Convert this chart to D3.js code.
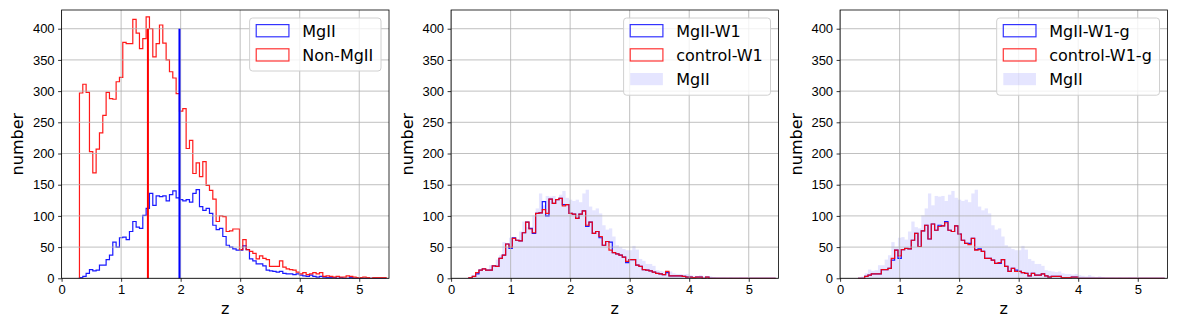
<!DOCTYPE html>
<html>
<head>
<meta charset="utf-8">
<script src="https://cdn.jsdelivr.net/npm/d3@7"></script>
<style>
  body { margin: 0; background: #fff; }
  svg { font-family: "DejaVu Sans", sans-serif; }
  .tick text { font-size: 13px; fill: #000; }
  .tick line { stroke: #000; stroke-width: 0.8; }
  .domain { display: none; }
  .label { font-size: 16px; fill: #000; }
  .legend-text { font-size: 16px; fill: #000; }
</style>
</head>
<body>
<svg id="chart" width="1177" height="327"></svg>
<script>
// histogram binning in z (shared by every series)
const binStart = 0.30,
      binWidth = 0.056;

// counts per bin
const mg2 = [
  1, 3, 8, 14, 12, 13, 21, 21, 30, 37,
  58, 50, 65, 66, 62, 75, 91, 82, 80, 101,
  112, 136, 117, 132, 131, 132, 124, 134, 140, 129,
  126, 124, 126, 122, 136, 142, 115, 109, 112, 104,
  85, 78, 80, 67, 53, 50, 47, 45, 45, 52,
  46, 31, 28, 23, 23, 20, 13, 12, 11, 10,
  11, 8, 7, 7, 6, 7, 5, 4, 3, 5,
  3, 2, 3, 2, 1, 1, 1, 0, 1, 0,
  0, 1, 0, 0, 0, 0, 0, 0, 0, 0, 0, 0];

const nonMg2 = [
  297, 311, 298, 203, 169, 207, 233, 261, 298, 288,
  287, 315, 322, 378, 376, 376, 415, 393, 368, 384,
  419, 400, 355, 376, 406, 377, 350, 331, 321, 296,
  268, 272, 208, 221, 168, 185, 163, 187, 149, 141,
  127, 91, 100, 99, 75, 76, 79, 79, 46, 62,
  46, 43, 40, 31, 36, 32, 30, 19, 19, 19,
  28, 18, 15, 14, 13, 10, 7, 9, 6, 7,
  9, 7, 9, 3, 4, 3, 2, 3, 2, 2,
  4, 3, 2, 1, 1, 2, 1, 0, 1, 1, 1, 1];

const mg2W1 = [
  1, 3, 7, 13, 15, 13, 13, 20, 19, 32,
  37, 55, 48, 65, 61, 60, 73, 90, 80, 72,
  104, 105, 123, 100, 127, 120, 126, 128, 118, 118,
  104, 103, 96, 103, 108, 83, 90, 72, 75, 65,
  53, 59, 58, 41, 39, 37, 34, 25, 30, 30,
  21, 19, 14, 13, 12, 10, 8, 7, 6, 9,
  4, 4, 4, 4, 3, 2, 2, 1, 2, 2,
  0, 2, 0, 0, 0, 0, 0, 0, 0, 0,
  0, 0, 0, 0, 0, 0, 0, 0, 0, 0, 0, 0];

const controlW1 = [
  1, 3, 9, 13, 15, 13, 13, 20, 19, 32,
  37, 55, 50, 64, 61, 60, 73, 90, 79, 73,
  104, 105, 110, 104, 127, 120, 126, 128, 116, 118,
  104, 103, 96, 103, 108, 85, 90, 72, 75, 67,
  53, 59, 45, 41, 39, 37, 34, 27, 30, 30,
  21, 19, 14, 13, 12, 10, 8, 7, 6, 11,
  4, 4, 4, 4, 3, 2, 2, 1, 2, 2,
  0, 2, 0, 0, 0, 0, 0, 0, 0, 0,
  0, 0, 0, 0, 0, 0, 0, 0, 0, 0, 0, 0];

const mg2W1g = [
  0, 0, 3, 5, 7, 7, 7, 14, 14, 16,
  29, 45, 32, 46, 48, 47, 61, 72, 51, 76,
  85, 63, 87, 77, 85, 84, 91, 77, 75, 84,
  71, 61, 56, 56, 64, 46, 47, 43, 32, 32,
  29, 24, 24, 30, 19, 11, 16, 13, 11, 9,
  8, 4, 8, 5, 5, 7, 4, 2, 3, 3,
  3, 1, 1, 1, 2, 2, 0, 0, 0, 0,
  0, 0, 0, 0, 0, 0, 0, 0, 0, 0,
  0, 0, 0, 0, 0, 0, 0, 0, 0, 0, 0, 0];

const controlW1g = [
  0, 0, 3, 5, 7, 7, 7, 14, 14, 16,
  32, 45, 36, 46, 48, 47, 61, 72, 51, 76,
  85, 63, 87, 77, 83, 84, 89, 77, 75, 84,
  71, 61, 56, 54, 64, 45, 46, 43, 32, 32,
  29, 24, 25, 30, 19, 11, 16, 11, 11, 9,
  8, 4, 8, 5, 5, 7, 4, 2, 3, 3,
  3, 1, 1, 1, 2, 2, 0, 0, 0, 0,
  0, 0, 0, 0, 0, 0, 0, 0, 0, 0,
  0, 0, 0, 0, 0, 0, 0, 0, 0, 0, 0, 0];

// mean z of each sample (vertical lines, first panel)
const meanNonMg2 = 1.45;
const meanMg2 = 1.98;

const xTicks = [0, 1, 2, 3, 4, 5];
const yTicks = [0, 50, 100, 150, 200, 250, 300, 350, 400];

const panels = [
  {left: 61.6,
   steps: [{data: mg2, color: "blue", label: "MgII"},
           {data: nonMg2, color: "red", label: "Non-MgII"}],
   fill: null,
   means: [{z: meanNonMg2, color: "red"}, {z: meanMg2, color: "blue"}]},
  {left: 451.1,
   steps: [{data: mg2W1, color: "blue", label: "MgII-W1"},
           {data: controlW1, color: "red", label: "control-W1"}],
   fill: {data: mg2, label: "MgII"},
   means: []},
  {left: 840.1,
   steps: [{data: mg2W1g, color: "blue", label: "MgII-W1-g"},
           {data: controlW1g, color: "red", label: "control-W1-g"}],
   fill: {data: mg2, label: "MgII"},
   means: []}
];

const plotTop = 10,
      width = 327.4,
      height = 268.3;

let x = d3.scaleLinear().domain([0, 5.5]).range([0, width]);
let y = d3.scaleLinear().domain([0, 430]).range([height, 0]);

let svg = d3.select("#chart");

function edge(i) { return binStart + i * binWidth; }

function stepPath(values) {
  let pts = [[edge(0), 0]];
  values.forEach((v, i) => {
    pts.push([edge(i), v]);
    pts.push([edge(i + 1), v]);
  });
  pts.push([edge(values.length), 0]);
  return d3.line().x((d) => x(d[0])).y((d) => y(d[1]))(pts);
}

panels.forEach((p) => {
  let chart = svg.append("g")
                 .attr("transform", "translate(" + p.left + "," + plotTop + ")");

  // filled histogram (behind the step outlines)
  if (p.fill) {
    chart.append("g").selectAll("rect")
         .data(p.fill.data)
         .enter().append("rect")
         .attr("x", (d, i) => x(edge(i)))
         .attr("width", x(binWidth) - x(0))
         .attr("y", (d) => y(d))
         .attr("height", (d) => y(0) - y(d))
         .attr("fill", "blue")
         .attr("fill-opacity", 0.1);
  }

  // step histograms
  p.steps.forEach((s) => {
    chart.append("path")
         .attr("d", stepPath(s.data))
         .attr("fill", "none")
         .attr("stroke", s.color)
         .attr("stroke-opacity", 0.9)
         .attr("stroke-width", 1.2);
  });

  // grid
  chart.append("g").selectAll("line")
       .data(xTicks).enter().append("line")
       .attr("x1", (d) => x(d)).attr("x2", (d) => x(d))
       .attr("y1", 0).attr("y2", height)
       .attr("stroke", "#b0b0b0").attr("stroke-width", 0.8);
  chart.append("g").selectAll("line")
       .data(yTicks).enter().append("line")
       .attr("x1", 0).attr("x2", width)
       .attr("y1", (d) => y(d)).attr("y2", (d) => y(d))
       .attr("stroke", "#b0b0b0").attr("stroke-width", 0.8);

  // mean lines
  p.means.forEach((m) => {
    chart.append("line")
         .attr("x1", x(m.z)).attr("x2", x(m.z))
         .attr("y1", y(0)).attr("y2", y(400))
         .attr("stroke", m.color)
         .attr("stroke-width", 2);
  });

  // axes
  chart.append("g")
       .attr("transform", "translate(0," + height + ")")
       .call(d3.axisBottom(x).tickValues(xTicks).tickFormat(d3.format("d"))
               .tickSize(3.5).tickPadding(2.5));
  chart.append("g")
       .call(d3.axisLeft(y).tickValues(yTicks).tickFormat(d3.format("d"))
               .tickSize(3.5).tickPadding(3.5));

  // frame
  chart.append("rect")
       .attr("width", width)
       .attr("height", height)
       .style("fill", "none")
       .style("stroke", "black")
       .style("stroke-width", 0.8);

  chart.append("text")
       .attr("class", "label")
       .attr("x", width / 2)
       .attr("y", 304 - plotTop)
       .attr("text-anchor", "middle")
       .attr("dy", "0.6em")
       .text("z");

  chart.append("text")
       .attr("class", "label")
       .attr("transform", "rotate(-90)")
       .attr("x", -height / 2)
       .attr("y", -38.6)
       .attr("text-anchor", "middle")
       .text("number");

  // legend
  let entries = p.steps.map((s) => ({label: s.label, color: s.color, fill: false}));
  if (p.fill) entries.push({label: p.fill.label, color: "blue", fill: true});

  let legend = chart.append("g");
  let box = legend.append("rect");
  let texts = entries.map((e, k) => legend.append("text")
                                          .attr("class", "legend-text")
                                          .attr("y", 12.7 + 24.2 * k + 6)
                                          .text(e.label));
  let textWidth = d3.max(texts, (t) => t.node().getComputedTextLength());
  let legendWidth = 6.6 + 32.7 + 13.3 + textWidth + 7.7;
  let legendHeight = 4.6 + 24.2 * entries.length;
  legend.attr("transform", "translate(" + (width - 8 - legendWidth) + ",8)");
  box.attr("width", legendWidth)
     .attr("height", legendHeight)
     .attr("rx", 3)
     .style("fill", "white")
     .style("fill-opacity", 0.8)
     .style("stroke", "#d0d0d0")
     .style("stroke-width", 1);
  texts.forEach((t) => t.attr("x", 52.6));
  entries.forEach((e, k) => {
    let r = legend.append("rect")
                  .attr("x", 6.6)
                  .attr("y", 12.7 + 24.2 * k - 6.1)
                  .attr("width", 32.7)
                  .attr("height", 12.2);
    if (e.fill) {
      r.style("fill", "blue").style("fill-opacity", 0.1).style("stroke", "none");
    } else {
      r.style("fill", "none").style("stroke", e.color)
       .style("stroke-opacity", 0.8).style("stroke-width", 1.2);
    }
  });
});
</script>
</body>
</html>
